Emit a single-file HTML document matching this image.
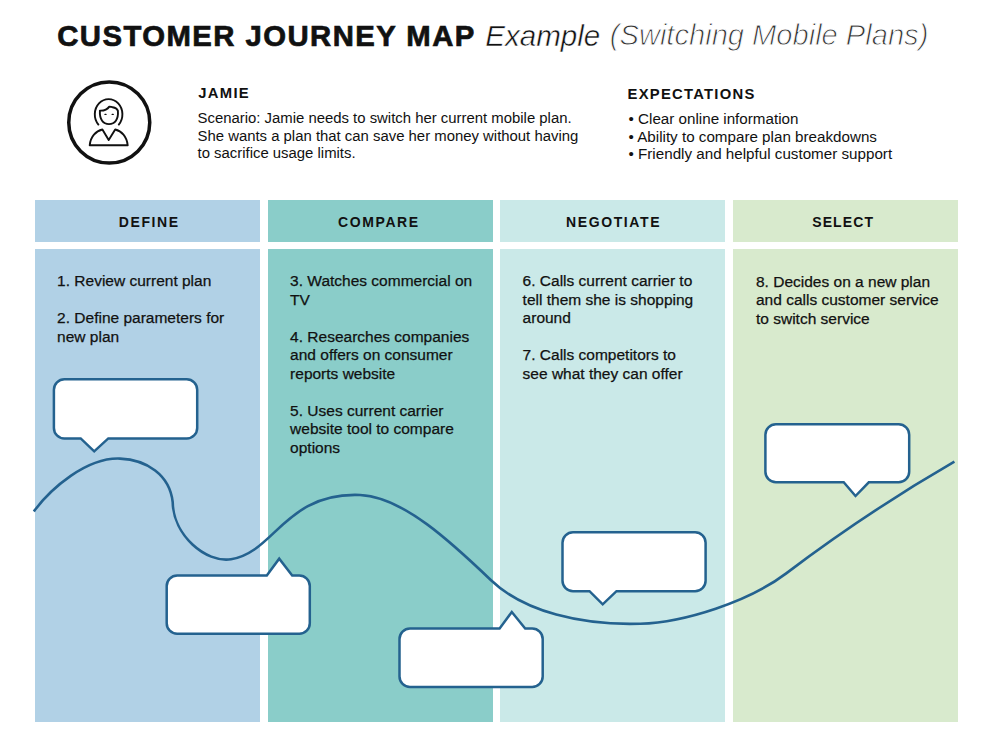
<!DOCTYPE html>
<html><head><meta charset="utf-8"><style>
html,body{margin:0;padding:0;background:#fff;}
body{width:986px;height:738px;position:relative;overflow:hidden;font-family:"Liberation Sans",sans-serif;}
</style></head><body>
<div style="position:absolute;left:57.2px;top:18.06px;font-size:29.3px;line-height:35.16px;font-weight:bold;letter-spacing:1.45px;color:#111;white-space:nowrap;-webkit-text-stroke:0.7px #111">CUSTOMER JOURNEY MAP</div><div style="position:absolute;left:485.2px;top:17.78px;font-size:29.6px;line-height:35.52px;font-style:italic;color:#111;white-space:nowrap;-webkit-text-stroke:0.5px #fff">Example</div><div style="position:absolute;left:609.8px;top:18.25px;font-size:29.1px;line-height:34.92px;font-style:italic;color:#333;white-space:nowrap;-webkit-text-stroke:0.9px #fff">(Switching Mobile Plans)</div><div style="position:absolute;left:198.3px;top:85.29px;font-size:14.8px;line-height:17.76px;font-weight:bold;letter-spacing:1.3px;color:#111;white-space:nowrap">JAMIE</div><div style="position:absolute;left:197.5px;top:110.03px;font-size:14.9px;line-height:17.6px;color:#111;white-space:nowrap">Scenario: Jamie needs to switch her current mobile plan.<br>She wants a plan that can save her money without having<br>to sacrifice usage limits.</div><div style="position:absolute;left:627.6px;top:85.99px;font-size:14.8px;line-height:17.76px;font-weight:bold;letter-spacing:1.25px;color:#111;white-space:nowrap">EXPECTATIONS</div><div style="position:absolute;left:628.5px;top:109.93px;font-size:15.2px;line-height:17.6px;color:#111;white-space:nowrap">&bull; Clear online information<br>&bull; Ability to compare plan breakdowns<br>&bull; Friendly and helpful customer support</div><div style="position:absolute;left:35px;top:200px;width:225.2px;height:41.599999999999994px;background:#b1d1e6"></div><div style="position:absolute;left:35px;top:249.4px;width:225.2px;height:473.0px;background:#b1d1e6"></div><div style="position:absolute;left:35.85px;top:213.55px;font-size:14px;line-height:16.8px;width:225.2px;text-align:center;font-weight:bold;letter-spacing:1.6px;color:#111;white-space:nowrap;text-indent:1.6px">DEFINE</div><div style="position:absolute;left:267.7px;top:200px;width:225.2px;height:41.599999999999994px;background:#8acdc9"></div><div style="position:absolute;left:267.7px;top:249.4px;width:225.2px;height:473.0px;background:#8acdc9"></div><div style="position:absolute;left:265.5px;top:213.55px;font-size:14px;line-height:16.8px;width:225.2px;text-align:center;font-weight:bold;letter-spacing:1.6px;color:#111;white-space:nowrap;text-indent:1.6px">COMPARE</div><div style="position:absolute;left:500.2px;top:200px;width:225.2px;height:41.599999999999994px;background:#cae9e8"></div><div style="position:absolute;left:500.2px;top:249.4px;width:225.2px;height:473.0px;background:#cae9e8"></div><div style="position:absolute;left:500.2px;top:213.55px;font-size:14px;line-height:16.8px;width:225.2px;text-align:center;font-weight:bold;letter-spacing:1.6px;color:#111;white-space:nowrap;text-indent:1.6px">NEGOTIATE</div><div style="position:absolute;left:733px;top:200px;width:225.2px;height:41.599999999999994px;background:#d8eacd"></div><div style="position:absolute;left:733px;top:249.4px;width:225.2px;height:473.0px;background:#d8eacd"></div><div style="position:absolute;left:730.0px;top:213.55px;font-size:14px;line-height:16.8px;width:225.2px;text-align:center;font-weight:bold;letter-spacing:1.1px;color:#111;white-space:nowrap;text-indent:1.1px">SELECT</div><div style="position:absolute;left:57.1px;top:272.38px;font-size:15.5px;line-height:18.5px;color:#111;white-space:nowrap;-webkit-text-stroke:0.25px #111">1. Review current plan<br>&nbsp;<br>2. Define parameters for<br>new plan</div><div style="position:absolute;left:290.1px;top:272.38px;font-size:15.5px;line-height:18.5px;color:#111;white-space:nowrap;-webkit-text-stroke:0.25px #111">3. Watches commercial on<br>TV<br>&nbsp;<br>4. Researches companies<br>and offers on consumer<br>reports website<br>&nbsp;<br>5. Uses current carrier<br>website tool to compare<br>options</div><div style="position:absolute;left:522.6px;top:272.38px;font-size:15.5px;line-height:18.5px;color:#111;white-space:nowrap;-webkit-text-stroke:0.25px #111">6. Calls current carrier to<br>tell them she is shopping<br>around<br>&nbsp;<br>7. Calls competitors to<br>see what they can offer</div><div style="position:absolute;left:756.0px;top:272.98px;font-size:15.5px;line-height:18.5px;color:#111;white-space:nowrap;-webkit-text-stroke:0.25px #111">8. Decides on a new plan<br>and calls customer service<br>to switch service</div>
<svg style="position:absolute;left:0;top:0" width="986" height="738" viewBox="0 0 986 738"><path d="M33.85,511.40 C50.77,488.47 86.59,457.28 120.02,458.61 C146.48,459.65 169.67,474.74 172.70,502.08 C173.19,535.16 205.57,563.13 231.04,559.27 C274.59,552.67 285.21,492.02 360.07,494.98 C402.95,496.67 452.39,543.26 491.02,580.21 C524.31,612.05 581.93,625.49 640.22,623.74 C684.40,622.41 748.63,601.79 786.22,573.34 C833.44,537.60 894.64,496.20 954.40,461.70" fill="none" stroke="#24628f" stroke-width="2.6" stroke-linecap="butt"/><path d="M64.4,379.3 L186.7,379.3 A10.5,10.5 0 0 1 197.2,389.8 L197.2,427.9 A10.5,10.5 0 0 1 186.7,438.4 L108.3,438.4 L94.2,451.4 L80.7,438.4 L64.4,438.4 A10.5,10.5 0 0 1 53.9,427.9 L53.9,389.8 A10.5,10.5 0 0 1 64.4,379.3 Z" fill="#fff" stroke="#24628f" stroke-width="2.5" stroke-linejoin="miter"/><path d="M177.2,575.6 L266.8,575.6 L279.2,558.7 L292.2,575.6 L299.3,575.6 A10.5,10.5 0 0 1 309.8,586.1 L309.8,623.2 A10.5,10.5 0 0 1 299.3,633.7 L177.2,633.7 A10.5,10.5 0 0 1 166.7,623.2 L166.7,586.1 A10.5,10.5 0 0 1 177.2,575.6 Z" fill="#fff" stroke="#24628f" stroke-width="2.5" stroke-linejoin="miter"/><path d="M410.0,628.5 L499.6,628.5 L511.8,612 L525.2,628.5 L532.2,628.5 A10.5,10.5 0 0 1 542.7,639.0 L542.7,676.5 A10.5,10.5 0 0 1 532.2,687.0 L410.0,687.0 A10.5,10.5 0 0 1 399.5,676.5 L399.5,639.0 A10.5,10.5 0 0 1 410.0,628.5 Z" fill="#fff" stroke="#24628f" stroke-width="2.5" stroke-linejoin="miter"/><path d="M573.0,532.2 L695.1,532.2 A10.5,10.5 0 0 1 705.6,542.7 L705.6,580.65 A10.5,10.5 0 0 1 695.1,591.15 L616.5,591.15 L602.7,604.3 L589.5,591.15 L573.0,591.15 A10.5,10.5 0 0 1 562.5,580.65 L562.5,542.7 A10.5,10.5 0 0 1 573.0,532.2 Z" fill="#fff" stroke="#24628f" stroke-width="2.5" stroke-linejoin="miter"/><path d="M775.9,424.2 L898.7,424.2 A10.5,10.5 0 0 1 909.2,434.7 L909.2,471.8 A10.5,10.5 0 0 1 898.7,482.3 L868.8,482.3 L855.5,496 L843.7,482.3 L775.9,482.3 A10.5,10.5 0 0 1 765.4,471.8 L765.4,434.7 A10.5,10.5 0 0 1 775.9,424.2 Z" fill="#fff" stroke="#24628f" stroke-width="2.5" stroke-linejoin="miter"/><circle cx="109.25" cy="122.5" r="40.5" fill="none" stroke="#111" stroke-width="3.5"/><g fill="none" stroke="#111" stroke-width="1.9" stroke-linecap="round" stroke-linejoin="round"><path d="M98.4,124.6 A13.8,15.2 0 1 1 118.8,124.6"/><path d="M99.9,110.6 C99.4,119.5 103.2,124.1 109,124.1 C114.8,124.1 118.6,119.5 117.9,110.9 C117.2,108.6 115,107.6 112.6,107.2 C111.4,107 110.3,106.5 109.3,106.6 C107.5,109.2 104.3,110.8 99.9,110.6 Z"/><path d="M102.4,129.5 L108.7,140 L115.2,129.5 C121.5,131 126.8,136.5 127.7,145.3 L89.7,145.3 C90.5,136.5 96,131 102.4,129.5 Z"/></g><g stroke="#111" stroke-width="1.4" stroke-linecap="round"><path d="M105,114.4 L106,114.4"/><path d="M112.2,114.4 L113.2,114.4"/></g></svg>
</body></html>
